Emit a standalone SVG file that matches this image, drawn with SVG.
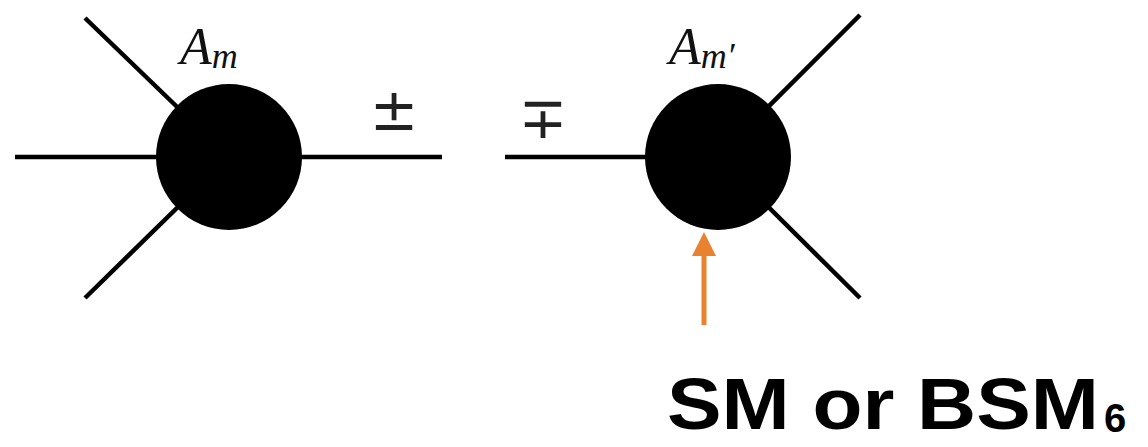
<svg xmlns="http://www.w3.org/2000/svg" width="1148" height="447" viewBox="0 0 1148 447">
<style>
.leg{stroke:#000;stroke-width:4.5;fill:none}
.blob{fill:#000}
.math{font-family:"Liberation Serif",serif;font-style:italic;fill:#111}
.op{font-family:"DejaVu Sans",sans-serif;fill:#222}
.hand{font-family:"Liberation Sans",sans-serif;font-weight:bold;fill:#000}
</style>
<rect width="1148" height="447" fill="#fff"/>
<g id="connectors">
<line class="leg" x1="15" y1="157" x2="229" y2="157"/>
<line class="leg" x1="85" y1="18" x2="229" y2="157"/>
<line class="leg" x1="85" y1="298" x2="229" y2="157"/>
<line class="leg" x1="229" y1="157" x2="442" y2="157"/>
<line class="leg" x1="505" y1="157" x2="718" y2="157"/>
<line class="leg" x1="860" y1="15" x2="718" y2="157"/>
<line class="leg" x1="860" y1="298" x2="718" y2="157"/>
<line x1="704" y1="325" x2="704" y2="252" stroke="#e8822e" stroke-width="5"/>
<polygon points="704,232 692,256 716,256" fill="#e8822e"/>
</g>
<g id="vertex-left">
<circle class="blob" cx="229" cy="157" r="73"/>
<text class="math" x="180" y="64" font-size="52">A<tspan font-size="36" dy="4">m</tspan></text>
</g>
<g id="vertex-right">
<circle class="blob" cx="718" cy="157" r="73"/>
<text class="math" x="669" y="64" font-size="52">A<tspan font-size="36" dy="4">m′</tspan></text>
</g>
<g id="signs">
<text class="op" x="394" y="130" font-size="58" text-anchor="middle">±</text>
<text class="op" x="543" y="138" font-size="58" text-anchor="middle">∓</text>
</g>
<g id="label">
<text class="hand" x="667" y="429" font-size="72" textLength="432" lengthAdjust="spacingAndGlyphs">SM or BSM</text>
<text class="hand" x="1104" y="432" font-size="40">6</text>
</g>
</svg>
